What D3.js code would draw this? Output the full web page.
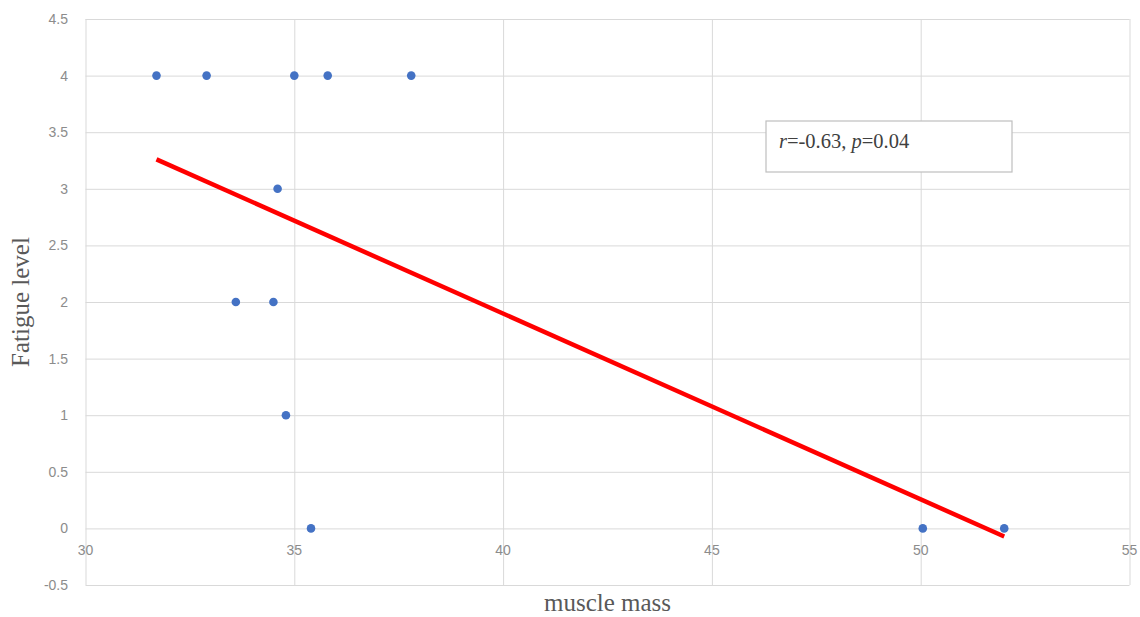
<!DOCTYPE html>
<html>
<head>
<meta charset="utf-8">
<script src="https://cdn.jsdelivr.net/npm/d3@7"></script>
<style>
	body { margin: 0; background: #fff; }
	svg { display: block; }
</style>
</head>
<body>
<script>
// values
const muscleMass = [31.7, 32.9, 35.0, 35.8, 37.8, 34.6, 33.6, 34.5, 34.8, 35.4, 50.05, 52.0];
const fatigueLevel = [4, 4, 4, 4, 4, 3, 2, 2, 1, 0, 0, 0];
const xTicks = [30, 35, 40, 45, 50, 55];
const yTicks = [-0.5, 0, 0.5, 1, 1.5, 2, 2.5, 3, 3.5, 4, 4.5];

const width = 1140;
const height = 617;
const margin = { top: 19, right: 10, bottom: 32, left: 85.5 };

const svg = d3.select("body")
	.append("svg")
	.attr("width", width)
	.attr("height", height);

const xScale = d3.scaleLinear()
	.domain([30, 55])
	.range([margin.left, 1129.5]);
const yScale = d3.scaleLinear()
	.domain([-0.5, 4.5])
	.range([585, margin.top]);

// gridlines
svg.append("g")
	.attr("transform", "translate(0,585)")
	.call(d3.axisBottom(xScale).tickValues(xTicks).tickSize(-(585 - margin.top)).tickFormat(""))
	.call((g) => g.select(".domain").remove())
	.selectAll("line").attr("stroke", "#d9d9d9").attr("stroke-width", 1);

svg.append("g")
	.attr("transform", "translate(" + margin.left + ",0)")
	.call(d3.axisLeft(yScale).tickValues(yTicks).tickSize(-(1129.5 - margin.left)).tickFormat(""))
	.call((g) => g.select(".domain").remove())
	.selectAll("line").attr("stroke", "#d9d9d9").attr("stroke-width", 1);

// tick labels
svg.append("g")
	.selectAll("text")
	.data(yTicks)
	.enter()
	.append("text")
	.attr("x", 68)
	.attr("y", (d) => yScale(d) + 5)
	.attr("text-anchor", "end")
	.attr("font-family", "Liberation Sans, Arial, sans-serif")
	.attr("font-size", 14)
	.attr("fill", "#8c8c8c")
	.text((d) => d);

svg.append("g")
	.selectAll("text")
	.data(xTicks)
	.enter()
	.append("text")
	.attr("x", (d) => xScale(d))
	.attr("y", 555)
	.attr("text-anchor", "middle")
	.attr("font-family", "Liberation Sans, Arial, sans-serif")
	.attr("font-size", 14)
	.attr("fill", "#8c8c8c")
	.text((d) => d);

// least squares trendline, as the spreadsheet draws it
const points = muscleMass.map((x, i) => [x, fatigueLevel[i]]);
const mx = d3.mean(muscleMass);
const my = d3.mean(fatigueLevel);
const slope = d3.sum(points, (d) => (d[0] - mx) * (d[1] - my)) / d3.sum(points, (d) => (d[0] - mx) ** 2);
const intercept = my - slope * mx;
const xExtent = d3.extent(muscleMass);

svg.append("line")
	.attr("x1", xScale(xExtent[0]))
	.attr("y1", yScale(intercept + slope * xExtent[0]))
	.attr("x2", xScale(xExtent[1]))
	.attr("y2", yScale(intercept + slope * xExtent[1]))
	.attr("stroke", "#ff0000")
	.attr("stroke-width", 4.5);

// points
svg.append("g")
	.selectAll("circle")
	.data(points)
	.enter()
	.append("circle")
	.attr("cx", (d) => xScale(d[0]))
	.attr("cy", (d) => yScale(d[1]))
	.attr("r", 4.3)
	.attr("fill", "#4472c4");

// annotation box
svg.append("rect")
	.attr("x", 766)
	.attr("y", 121)
	.attr("width", 246)
	.attr("height", 51)
	.attr("fill", "#fff")
	.attr("stroke", "#bfbfbf")
	.attr("stroke-width", 1.2);

const note = svg.append("text")
	.attr("x", 779)
	.attr("y", 148)
	.attr("font-family", "Liberation Serif, Times New Roman, serif")
	.attr("font-size", 20.5)
	.attr("fill", "#404040");
note.append("tspan").attr("font-style", "italic").text("r");
note.append("tspan").text("=-0.63, ");
note.append("tspan").attr("font-style", "italic").text("p");
note.append("tspan").text("=0.04");

// axis titles
svg.append("text")
	.attr("x", (margin.left + 1129.5) / 2)
	.attr("y", 611)
	.attr("text-anchor", "middle")
	.attr("font-family", "Liberation Serif, Times New Roman, serif")
	.attr("font-size", 25)
	.attr("fill", "#595959")
	.text("muscle mass");

svg.append("text")
	.attr("transform", "translate(29," + (585 + margin.top) / 2 + ") rotate(-90)")
	.attr("text-anchor", "middle")
	.attr("font-family", "Liberation Serif, Times New Roman, serif")
	.attr("font-size", 25)
	.attr("fill", "#595959")
	.text("Fatigue level");
</script>
</body>
</html>
